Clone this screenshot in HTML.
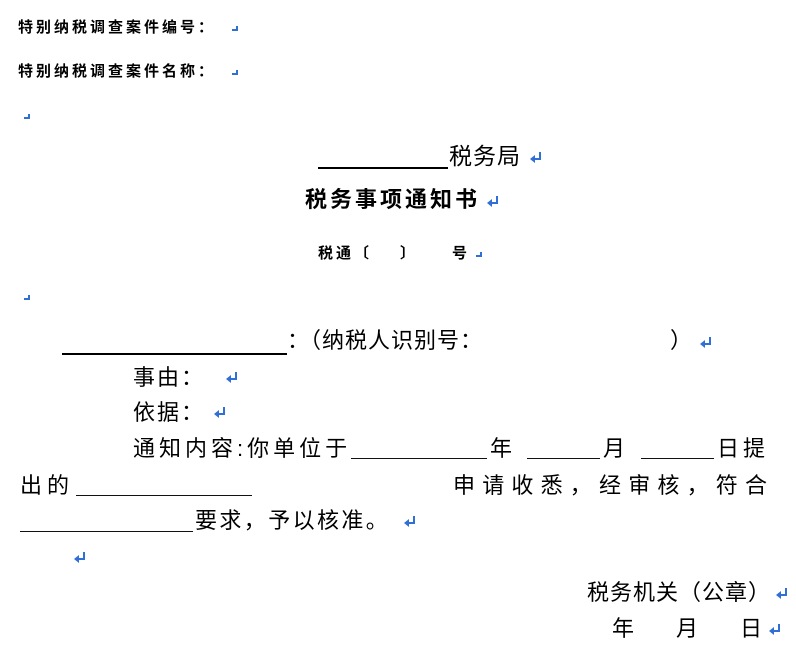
<!DOCTYPE html>
<html><head><meta charset="utf-8">
<style>
html,body{margin:0;padding:0;background:#fff;width:796px;height:656px;overflow:hidden;position:relative;font-family:"Liberation Sans","WenQuanYi Zen Hei","Noto Sans CJK SC",sans-serif;color:#000}
.t{position:absolute;white-space:nowrap;line-height:1}
.s{font-size:15px;font-weight:bold;letter-spacing:3px}
.b{font-size:22px;letter-spacing:2px}
.u{position:absolute;height:0;border-bottom:1px solid #111}
.U{position:absolute;height:0;border-bottom:2px solid #000}
.a{position:absolute;width:14px;height:12px}
.m{position:absolute;width:6px;height:5px;border-right:2px solid #2f6fd6;border-bottom:2px solid #2f6fd6;box-sizing:border-box}
</style></head><body>
<svg width="0" height="0" style="position:absolute"><defs><g id="ar"><path d="M11 1 V8 H4" fill="none" stroke="#2f6fd6" stroke-width="2"/><path d="M1 8 L6 4 L6 12 Z" fill="#2f6fd6"/></g></defs></svg>

<div class="t s" style="left:18px;top:20px">特别纳税调查案件编号：</div>
<div class="m" style="left:232px;top:26px"></div>
<div class="t s" style="left:18px;top:64px">特别纳税调查案件名称：</div>
<div class="m" style="left:232px;top:70px"></div>
<div class="m" style="left:24px;top:114px"></div>

<div class="U" style="left:318px;top:167px;width:130px"></div>
<div class="t" style="left:449px;top:145px;font-size:23px;letter-spacing:1px">税务局</div>
<svg class="a" style="left:529px;top:151px"><use href="#ar"/></svg>

<div class="t" style="left:305px;top:189px;font-size:22px;font-weight:bold;letter-spacing:3px">税务事项通知书</div>
<svg class="a" style="left:486px;top:195px"><use href="#ar"/></svg>

<div class="t s" style="left:318px;top:246px">税通〔</div>
<div class="t s" style="left:400px;top:246px">〕</div>
<div class="t s" style="left:452px;top:246px">号</div>
<div class="m" style="left:476px;top:252px"></div>
<div class="m" style="left:24px;top:295px"></div>

<div class="U" style="left:62px;top:353px;width:225px"></div>
<div class="t b" style="left:287px;top:330px;letter-spacing:1px">：（纳税人识别号：</div>
<div class="t b" style="left:670px;top:330px">）</div>
<svg class="a" style="left:699px;top:336px"><use href="#ar"/></svg>

<div class="t b" style="left:133px;top:367px">事由：</div>
<svg class="a" style="left:225px;top:371px"><use href="#ar"/></svg>
<div class="t b" style="left:133px;top:402px">依据：</div>
<svg class="a" style="left:213px;top:406px"><use href="#ar"/></svg>

<div class="t b" style="left:133px;top:438px;letter-spacing:4px">通知内容:你单位于</div>
<div class="u" style="left:351px;top:458px;width:136px"></div>
<div class="t b" style="left:490px;top:438px">年</div>
<div class="u" style="left:527px;top:458px;width:73px"></div>
<div class="t b" style="left:603px;top:438px">月</div>
<div class="u" style="left:641px;top:458px;width:73px"></div>
<div class="t b" style="left:717px;top:438px;letter-spacing:4px">日提</div>

<div class="t b" style="left:20px;top:475px;letter-spacing:5px">出的</div>
<div class="u" style="left:76px;top:495px;width:176px"></div>
<div class="t b" style="left:453px;top:475px;letter-spacing:7.2px">申请收悉，经审核，符合</div>

<div class="u" style="left:20px;top:531px;width:173px"></div>
<div class="t b" style="left:195px;top:510px;letter-spacing:2.4px">要求，予以核准。</div>
<svg class="a" style="left:403px;top:515px"><use href="#ar"/></svg>
<svg class="a" style="left:73px;top:551px"><use href="#ar"/></svg>

<div class="t b" style="left:587px;top:582px;letter-spacing:1px">税务机关（公章）</div>
<svg class="a" style="left:775px;top:587px"><use href="#ar"/></svg>
<div class="t b" style="left:612px;top:618px">年</div>
<div class="t b" style="left:676px;top:618px">月</div>
<div class="t b" style="left:740px;top:618px">日</div>
<svg class="a" style="left:768px;top:623px"><use href="#ar"/></svg>
</body></html>
